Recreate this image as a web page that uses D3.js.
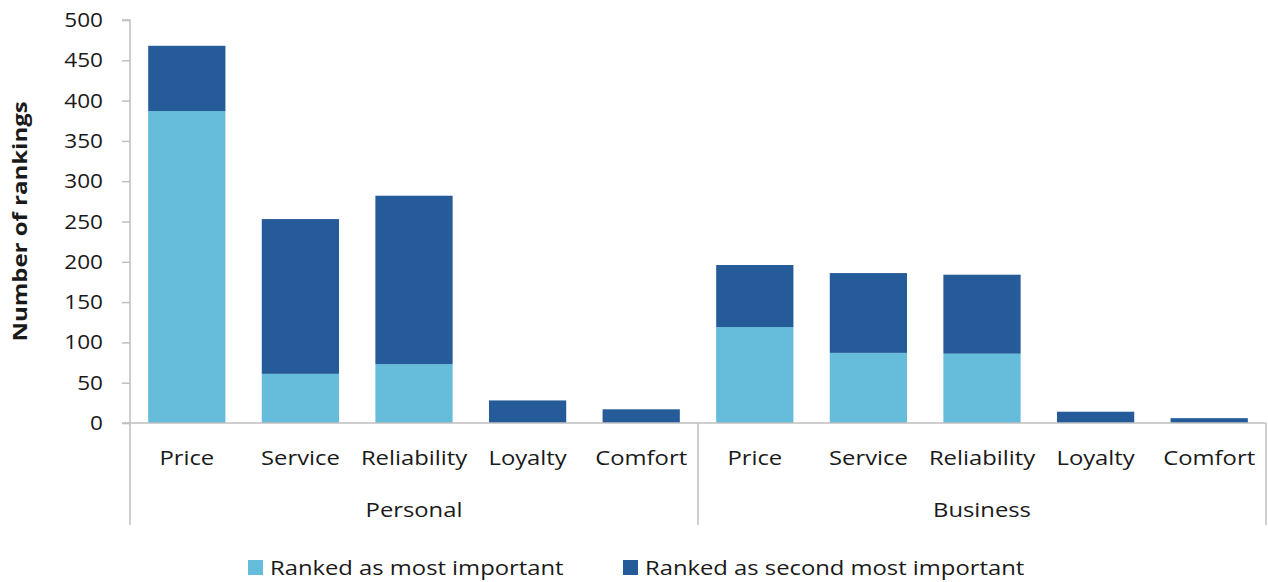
<!DOCTYPE html>
<html><head><meta charset="utf-8">
<script src="https://cdn.jsdelivr.net/npm/d3@7"></script>
<style>
body{margin:0;background:#fff;}
text{font-family:"Open Sans",sans-serif;fill:#1a1a1a;}
</style></head>
<body><svg id="c" width="1268" height="582"></svg>
<script>
const groups = ["Personal","Business"];
const categories = ["Price","Service","Reliability","Loyalty","Comfort"];
const mostImportant = [387, 61, 73, 0, 0, 119, 87, 86, 0, 0];
const secondImportant = [81, 192, 209, 28, 17, 77, 99, 98, 14, 6];
const yTicks = [0,50,100,150,200,250,300,350,400,450,500];
const seriesNames = ["Ranked as most important","Ranked as second most important"];
const colors = ["#66bcdb","#265b9a"];

(function(){
const svg = d3.select("#c");
const mL = 130, mR = 1266, mT = 20, mB = 423;
const SX = 1.19;
const keys = [];
groups.forEach(g => categories.forEach(c => keys.push(g + "|" + c)));
const x = d3.scaleBand().domain(keys).range([mL, mR]).paddingInner(0.32).paddingOuter(0.16);
const y = d3.scaleLinear().domain([0, 500]).range([mB, mT]);
const axisCol = "#bfbfbf";

// y axis
const ya = svg.append("g").attr("transform", `translate(${mL},0)`)
  .call(d3.axisLeft(y).tickValues(yTicks).tickSize(8).tickFormat(""));
ya.select(".domain").attr("stroke", axisCol).attr("stroke-width", 1.5).attr("d", `M-8,${mT}H0V${mB}`);
ya.selectAll(".tick line").attr("stroke", axisCol).attr("stroke-width", 1.5);
svg.append("g").selectAll("text").data(yTicks).join("text")
  .attr("transform", d => `translate(103,${y(d) + 7}) scale(1.13,1)`)
  .attr("text-anchor", "end").style("font-size", "20px").text(d => d);

// stacks
const data = keys.map((k, i) => ({key: k, a: mostImportant[i], b: secondImportant[i]}));
const stack = d3.stack().keys(["a","b"])(data);
svg.append("g").selectAll("g").data(stack).join("g").attr("fill", (d, i) => colors[i])
  .selectAll("rect").data(d => d).join("rect")
  .attr("x", d => x(d.data.key)).attr("width", x.bandwidth())
  .attr("y", d => y(d[1])).attr("height", d => y(d[0]) - y(d[1]));

// x axis baseline
svg.append("line").attr("x1", mL - 8).attr("x2", mR).attr("y1", mB).attr("y2", mB)
  .attr("stroke", axisCol).attr("stroke-width", 1.5);
// category labels
svg.append("g").selectAll("text").data(keys).join("text")
  .attr("transform", d => `translate(${x(d) + x.bandwidth() / 2},465) scale(${SX},1)`)
  .attr("text-anchor", "middle").style("font-size", "20px")
  .text(d => d.split("|")[1]);
// group dividers
const gScale = d3.scaleBand().domain(groups).range([mL, mR]);
const divs = [mL].concat(groups.map(g => gScale(g) + gScale.bandwidth()));
svg.append("g").selectAll("line").data(divs).join("line")
  .attr("x1", d => d).attr("x2", d => d).attr("y1", mB).attr("y2", 525)
  .attr("stroke", axisCol).attr("stroke-width", 1.5);
svg.append("g").selectAll("text").data(groups).join("text")
  .attr("transform", d => `translate(${gScale(d) + gScale.bandwidth() / 2},517) scale(${SX},1)`)
  .attr("text-anchor", "middle").style("font-size", "20px").text(d => d);

// y title
svg.append("text").attr("transform", `translate(27,${(mT + mB) / 2 + 0}) rotate(-90) scale(1.2,1)`)
  .attr("text-anchor", "middle").style("font-size", "20px").style("font-weight", "bold")
  .text("Number of rankings");

// legend
const legX = [248, 623];
const lg = svg.append("g").selectAll("g").data(seriesNames).join("g")
  .attr("transform", (d, i) => `translate(${legX[i]},560)`);
lg.append("rect").attr("width", 15).attr("height", 15).attr("fill", (d, i) => colors[i]);
lg.append("text").attr("transform", `translate(22,15) scale(${SX},1)`).style("font-size", "20px").text(d => d);
})();
</script></body></html>
